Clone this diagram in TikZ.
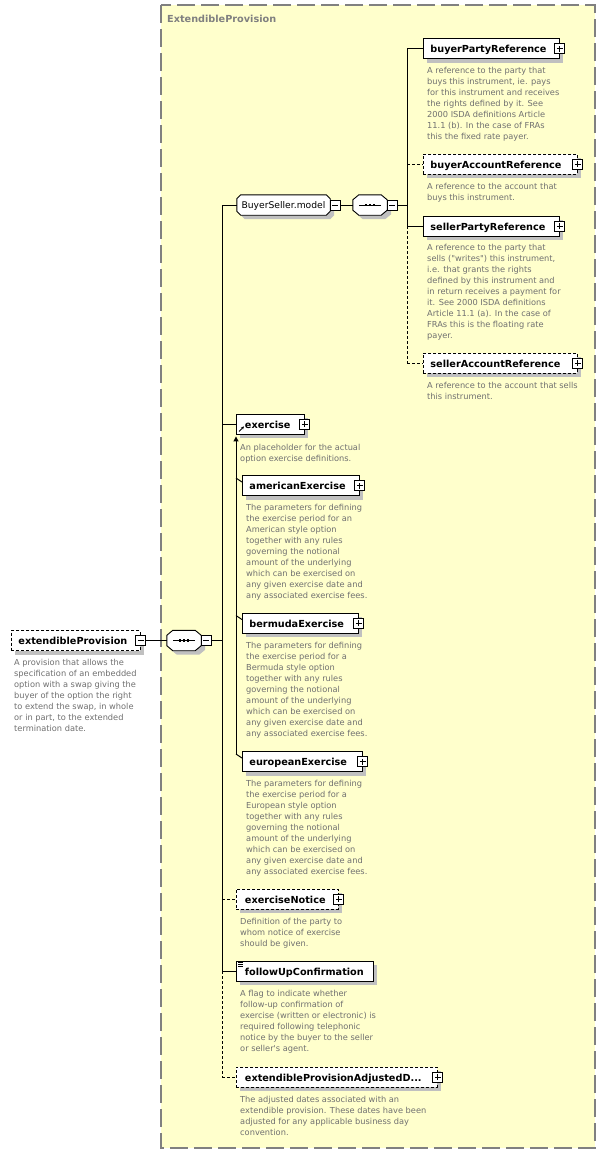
\documentclass[tikz,border=0pt]{standalone}
\usepackage{fontspec}
\newfontfamily\dv{DejaVu Sans}
\usetikzlibrary{shadows,arrows.meta,calc}
\definecolor{bgy}{RGB}{255,255,204}
\definecolor{framegray}{RGB}{128,128,128}
\definecolor{descgray}{RGB}{112,112,112}
\definecolor{shd}{RGB}{192,192,192}
\newcommand\lblfont{\dv\bfseries\fontsize{9.7}{11}\selectfont}
\newcommand\grpfont{\dv\fontsize{9.2}{11}\selectfont}
\newcommand\descfont{\dv\fontsize{8.25}{11}\selectfont}
\newcommand\dst{\rule{0pt}{8pt}}
% octagon path: node, x chamfer, y chamfer, offset
\newcommand\octo[4]{([xshift=#2+#4,yshift=-#4]#1.north west) -- ([xshift=-#2+#4,yshift=-#4]#1.north east) -- ([xshift=#4,yshift=-#3-#4]#1.north east) -- ([xshift=#4,yshift=#3-#4]#1.south east) -- ([xshift=-#2+#4,yshift=-#4]#1.south east) -- ([xshift=#2+#4,yshift=-#4]#1.south west) -- ([xshift=#4,yshift=#3-#4]#1.south west) -- ([xshift=#4,yshift=-#3-#4]#1.north west) -- cycle}
\newcommand\seqsym[1]{%
  \draw[line width=1pt] ([xshift=-11pt]#1.center) -- ([xshift=11pt]#1.center);
  \foreach \dx in {-4,0,4} \fill ([xshift=\dx pt]#1.center) +(-1.4,-1.4) rectangle +(1.4,1.4);}
\pgfdeclarelayer{back}\pgfdeclarelayer{mid}\pgfsetlayers{back,mid,main}
\tikzset{
  boxshadow/.style={general shadow={fill=shd, shadow xshift=4pt, shadow yshift=-4pt}},
  elem/.style={draw=black, line width=0.9pt, fill=white, rectangle, anchor=west, minimum height=20pt,
    inner xsep=7pt, inner ysep=0pt, text height=8pt, text depth=0pt, font=\lblfont, align=left, boxshadow},
  optbox/.style={dash pattern=on 3pt off 2pt},
  grp/.style={rectangle, draw=none, minimum height=20pt, inner sep=0pt, font=\grpfont, text height=7pt, text depth=0pt},
  btn/.style={draw=black, fill=white, line width=0.9pt, minimum size=10pt, inner sep=0pt},
  pbtn/.style={btn, path picture={\draw[line width=0.9pt] ([xshift=-3pt]path picture bounding box.center) -- ([xshift=3pt]path picture bounding box.center) ([yshift=-3pt]path picture bounding box.center) -- ([yshift=3pt]path picture bounding box.center);}},
  mbtn/.style={btn, path picture={\draw[line width=0.9pt] ([xshift=-3pt]path picture bounding box.center) -- ([xshift=3pt]path picture bounding box.center);}},
  dnode/.style={anchor=north west, inner sep=0pt, align=left, font=\descfont, text=descgray},
  conn/.style={line width=1pt, draw=black},
  optconn/.style={conn, dash pattern=on 3pt off 2pt},
}
\begin{document}
\begin{tikzpicture}[x=1pt,y=-1pt]
\useasboundingbox (0,0) rectangle (605,1154);
\begin{pgfonlayer}{back}
  \fill[white] (0,0) rectangle (605,1154);
  \fill[bgy] (161,5) rectangle (595,1148);
  \draw[framegray, line width=1.1pt, dash pattern=on 18pt off 6pt] (161,5) rectangle (595,1148);
\end{pgfonlayer}
\node[anchor=west, font=\lblfont, text=framegray, inner sep=0pt] (title) at (167,19) {ExtendibleProvision};

% root element
\node[elem, optbox, text width=115pt] (ep) at (11,640.5) {\mbox{extendibleProvision}};
\node[mbtn] (ep-b) at (ep.east) {};
\node[dnode] (ep-d) at (14,657) {\dst A provision that allows the\\specification of an embedded\\option with a swap giving the\\buyer of the option the right\\to extend the swap, in whole\\or in part, to the extended\\termination date.};

% main sequence
\node[grp, minimum width=34pt] (sq1) at (184,640.5) {};
\node[mbtn] (sq1-b) at ([xshift=5pt]sq1.east) {};
\coordinate (bus) at (222,0);

% BuyerSeller.model group
\node[grp, minimum width=93pt] (bsm) at (283.5,205) {BuyerSeller.model};
\node[mbtn] (bsm-b) at ([xshift=5pt]bsm.east) {};
\node[grp, minimum width=34pt] (sq2) at (370,205) {};
\node[mbtn] (sq2-b) at ([xshift=5pt]sq2.east) {};
\coordinate (bus2) at (407,0);

\node[elem, text width=122pt] (bpr) at (423,48.5) {\mbox{buyerPartyReference}};
\node[pbtn] (bpr-b) at (bpr.east) {};
\node[dnode] (bpr-d) at (427,65) {\dst A reference to the party that\\buys this instrument, ie. pays\\for this instrument and receives\\the rights defined by it. See\\2000 ISDA definitions Article\\11.1 (b). In the case of FRAs\\this the fixed rate payer.};

\node[elem, optbox, text width=140pt] (bar) at (423,164) {\mbox{buyerAccountReference}};
\node[pbtn] (bar-b) at (bar.east) {};
\node[dnode] (bar-d) at (427,181) {\dst A reference to the account that\\buys this instrument.};

\node[elem, text width=122pt] (spr) at (423,226) {\mbox{sellerPartyReference}};
\node[pbtn] (spr-b) at (spr.east) {};
\node[dnode] (spr-d) at (427,242) {\dst A reference to the party that\\sells ("writes") this instrument,\\i.e. that grants the rights\\defined by this instrument and\\in return receives a payment for\\it. See 2000 ISDA definitions\\Article 11.1 (a). In the case of\\FRAs this is the floating rate\\payer.};

\node[elem, optbox, text width=140pt] (sar) at (423,363) {\mbox{sellerAccountReference}};
\node[pbtn] (sar-b) at (sar.east) {};
\node[dnode] (sar-d) at (427,380) {\dst A reference to the account that sells\\this instrument.};

% exercise and substitutions
\node[elem, text width=54pt] (ex) at (236,424) {\hspace*{1.5pt}\mbox{exercise}};
\node[pbtn] (ex-b) at (ex.east) {};
\node[dnode] (ex-d) at (240,442) {\dst An placeholder for the actual\\option exercise definitions.};

\node[elem, text width=103pt] (am) at (242,485.5) {\mbox{americanExercise}};
\node[pbtn] (am-b) at (am.east) {};
\node[dnode] (am-d) at (246,502) {\dst The parameters for defining\\the exercise period for an\\American style option\\together with any rules\\governing the notional\\amount of the underlying\\which can be exercised on\\any given exercise date and\\any associated exercise fees.};

\node[elem, text width=102pt] (be) at (242,623) {\mbox{bermudaExercise}};
\node[pbtn] (be-b) at (be.east) {};
\node[dnode] (be-d) at (246,640) {\dst The parameters for defining\\the exercise period for a\\Bermuda style option\\together with any rules\\governing the notional\\amount of the underlying\\which can be exercised on\\any given exercise date and\\any associated exercise fees.};

\node[elem, text width=106pt] (eu) at (242,761.5) {\mbox{europeanExercise}};
\node[pbtn] (eu-b) at (eu.east) {};
\node[dnode] (eu-d) at (246,778) {\dst The parameters for defining\\the exercise period for a\\European style option\\together with any rules\\governing the notional\\amount of the underlying\\which can be exercised on\\any given exercise date and\\any associated exercise fees.};

\node[elem, optbox, text width=88pt] (en) at (236,899) {\hspace*{1.5pt}\mbox{exerciseNotice}};
\node[pbtn] (en-b) at (en.east) {};
\node[dnode] (en-d) at (240,916) {\dst Definition of the party to\\whom notice of exercise\\should be given.};

\node[elem, text width=123pt] (fu) at (236,971) {\hspace*{1.5pt}\mbox{followUpConfirmation}};
\node[dnode] (fu-d) at (240,988) {\dst A flag to indicate whether\\follow-up confirmation of\\exercise (written or electronic) is\\required following telephonic\\notice by the buyer to the seller\\or seller's agent.};

\node[elem, optbox, text width=187pt] (ad) at (236,1077) {\hspace*{1.5pt}\mbox{extendibleProvisionAdjustedD...}};
\node[pbtn] (ad-b) at (ad.east) {};
\node[dnode] (ad-d) at (240,1094) {\dst The adjusted dates associated with an\\extendible provision. These dates have been\\adjusted for any applicable business day\\convention.};

% group shapes
\begin{pgfonlayer}{mid}
  \fill[shd] \octo{bsm}{4pt}{4pt}{4pt};
  \draw[fill=white, line width=0.9pt] \octo{bsm}{4pt}{4pt}{0pt};
  \fill[shd] \octo{sq2}{6pt}{5pt}{4pt};
  \draw[fill=white, line width=0.9pt] \octo{sq2}{6pt}{5pt}{0pt};
  \fill[shd] \octo{sq1}{6pt}{5pt}{4pt};
  \draw[fill=white, line width=0.9pt] \octo{sq1}{6pt}{5pt}{0pt};
\end{pgfonlayer}
\seqsym{sq1}
\seqsym{sq2}

% icons
\draw[line width=0.9pt, -{Stealth[length=3pt,width=3pt]}] ([shift={(3,-3)}]ex.south west) -- ([shift={(8,-8)}]ex.south west);
\foreach \d in {2,4,6} \draw[line width=0.7pt] ([shift={(2,\d)}]fu.north west) -- ++(5,0);

% connectors
\draw[conn] (ep-b.east) -- (sq1.west);
\draw[conn] (sq1-b.east) -- (sq1-b.east -| bus);
\draw[conn] (bsm.west -| bus) -- (fu.west -| bus);
\draw[optconn] (fu.west -| bus) -- (ad.west -| bus);
\draw[conn] (bsm.west -| bus) -- (bsm.west);
\draw[conn] (ex.west -| bus) -- (ex.west);
\draw[optconn] (en.west -| bus) -- (en.west);
\draw[conn] (fu.west -| bus) -- (fu.west);
\draw[optconn] (ad.west -| bus) -- (ad.west);

\draw[conn] (bsm-b.east) -- (sq2.west);
\draw[conn] (sq2-b.east) -- (sq2-b.east -| bus2);
\draw[conn] (bpr.west -| bus2) -- (spr.west -| bus2);
\draw[optconn] (spr.west -| bus2) -- (sar.west -| bus2);
\draw[conn] (bpr.west -| bus2) -- (bpr.west);
\draw[optconn] (bar.west -| bus2) -- (bar.west);
\draw[conn] (spr.west -| bus2) -- (spr.west);
\draw[optconn] (sar.west -| bus2) -- (sar.west);

% substitution group line
\coordinate (subA) at ([shift={(-6,3)}]eu.north west);
\draw[conn, -{Triangle[length=5pt,width=5pt]}] (subA) -- ([yshift=-2pt]ex.south west);
\draw[conn] (subA) -- ([yshift=-7pt]eu.north west);
\draw[conn] ([shift={(-6,3)}]am.north west) -- ([yshift=-7pt]am.north west);
\draw[conn] ([shift={(-6,3)}]be.north west) -- ([yshift=-7pt]be.north west);
\end{tikzpicture}
\end{document}
